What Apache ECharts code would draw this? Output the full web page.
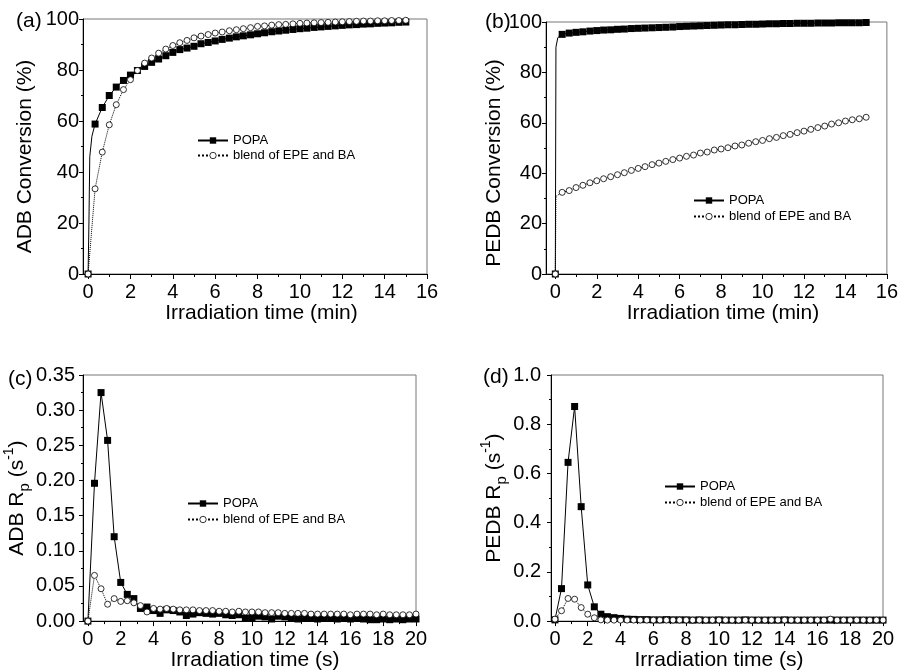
<!DOCTYPE html>
<html><head><meta charset="utf-8">
<script src="https://cdn.jsdelivr.net/npm/echarts@6/dist/echarts.min.js"></script>
<style>html,body{margin:0;padding:0;background:#fff}#c{width:901px;height:672px}</style>
</head><body><div id="c"></div>
<script>
// ---------- data ----------
const tMin = [0,0.33,0.67,1,1.33,1.67,2,2.33,2.67,3,3.33,3.67,4,4.33,4.67,5,5.33,5.67,6,6.33,6.67,7,7.33,7.67,8,8.33,8.67,9,9.33,9.67,10,10.33,10.67,11,11.33,11.67,12,12.33,12.67,13,13.33,13.67,14,14.33,14.67,15];
const popaA = [0,58.8,65.3,70,73.3,75.9,78,79.8,81.4,83,84.3,85.6,86.9,88,88.6,89.3,90.3,90.8,91.4,92,92.5,93,93.4,93.8,94.2,94.6,95,95.3,95.6,95.9,96.2,96.4,96.7,96.9,97.1,97.3,97.5,97.7,97.8,98,98.1,98.3,98.4,98.5,98.7,98.8];
const blendA = [0,33.4,47.8,58.5,66.4,72.3,76.2,79.8,82.7,84.7,86.6,88.2,89.6,90.7,91.6,92.6,93.3,93.9,94.5,94.9,95.4,95.8,96.2,96.6,97.1,97.3,97.6,97.8,97.9,98.1,98.3,98.4,98.5,98.6,98.7,98.8,98.9,99,99.1,99.2,99.2,99.3,99.3,99.4,99.4,99.5];
const popaB = [0,95.1,95.6,95.9,96.1,96.4,96.6,96.8,96.9,97.1,97.2,97.4,97.5,97.6,97.7,97.8,97.9,98.0,98.2,98.3,98.4,98.5,98.6,98.7,98.8,98.9,98.9,99.0,99.1,99.1,99.2,99.3,99.3,99.4,99.4,99.5,99.5,99.5,99.6,99.6,99.6,99.7,99.7,99.7,99.7,99.8];
const blendB = [0,32.4,33.1,34.3,35.2,36.2,37,37.8,38.6,39.4,40.2,41.1,41.9,42.6,43.4,44,44.7,45.4,46,46.7,47.2,48,48.4,49.2,49.6,50.1,50.8,51.2,51.9,52.5,53,53.7,54.2,54.9,55.4,56.1,56.7,57.4,58.1,58.7,59.5,60,60.7,61.2,61.6,62.2];
// line-only points of the steep initial rise (no symbols in the original)
const popaARise = [[0.04,20],[0.08,46],[0.18,54]];
const popaBRise = [[0.03,90],[0.12,93.8]];
const blendBRise = [[0.03,30.8]];

const tSec = [0,0.4,0.8,1.2,1.6,2,2.4,2.8,3.2,3.6,4,4.4,4.8,5.2,5.6,6,6.4,6.8,7.2,7.6,8,8.4,8.8,9.2,9.6,10,10.4,10.8,11.2,11.6,12,12.4,12.8,13.2,13.6,14,14.4,14.8,15.2,15.6,16,16.4,16.8,17.2,17.6,18,18.4,18.8,19.2,19.6,20];
const popaC = [0,0.196,0.325,0.257,0.120,0.055,0.038,0.032,0.018,0.020,0.015,0.011,0.016,0.015,0.013,0.008,0.010,0.012,0.011,0.010,0.011,0.009,0.008,0.009,0.004,0.005,0.007,0.006,0.003,0.007,0.006,0.004,0.003,0.005,0.004,0.003,0.004,0.005,0.003,0.004,0.003,0.004,0.003,0.002,0.002,0.003,0.002,0.003,0.002,0.003,0.003];
const blendC = [0,0.065,0.046,0.024,0.032,0.028,0.029,0.026,0.022,0.013,0.018,0.017,0.018,0.017,0.016,0.016,0.016,0.015,0.015,0.015,0.014,0.014,0.013,0.014,0.013,0.013,0.013,0.012,0.012,0.012,0.011,0.011,0.011,0.011,0.010,0.010,0.010,0.010,0.010,0.010,0.009,0.010,0.010,0.010,0.009,0.010,0.009,0.009,0.009,0.009,0.010];
const popaD = [0.005,0.132,0.645,0.872,0.465,0.147,0.058,0.028,0.018,0.014,0.011,0.008,0.007,0.006,0.006,0.005,0.005,0.006,0.005,0.005,0.005,0.004,0.005,0.004,0.004,0.005,0.004,0.004,0.004,0.005,0.004,0.004,0.004,0.004,0.004,0.005,0.004,0.004,0.004,0.004,0.004,0.004,0.004,0.004,0.004,0.004,0.004,0.004,0.004,0.004,0.004];
const blendD = [0.008,0.042,0.092,0.089,0.055,0.028,0.0135,0.005,0.004,0.004,0.004,0.004,0.004,0.004,0.004,0.004,0.004,0.004,0.004,0.004,0.004,0.004,0.004,0.004,0.004,0.004,0.004,0.004,0.004,0.004,0.004,0.004,0.004,0.004,0.004,0.004,0.004,0.004,0.004,0.004,0.004,0.004,0.008,0.004,0.004,0.004,0.004,0.004,0.004,0.004,0.004];

const ticksMin = [0,2,4,6,8,10,12,14,16];
const minorMin = [1,3,5,7,9,11,13,15];
const ticksSec = [0,2,4,6,8,10,12,14,16,18,20];
const minorSec = [1,3,5,7,9,11,13,15,17,19];
const seriesNames = ['POPA','blend of EPE and BA'];
const panelLabels = ['(a)','(b)','(c)','(d)'];
const xTitles = ['Irradiation time (min)','Irradiation time (min)','Irradiation time (s)','Irradiation time (s)'];
const yTitles = ['ADB Conversion (%)','PEDB Conversion (%)','ADB R{sub|p} (s{sup|-1})','PEDB R{sub|p} (s{sup|-1})'];

// ---------- chart ----------
const FONT = '"Liberation Sans", Arial, sans-serif';
function pts(xs, ys){ return xs.map((x,i)=>[x, ys[i]]); }
function withRise(xs, ys, rise){
  const all = pts(xs, ys);
  return [all[0]].concat(rise.map(p=>({value:p, symbol:'none'})), all.slice(1));
}

const grids = [
  {left:83, top:19, width:344, height:255},
  {left:546, top:22, width:345, height:252},
  {left:83, top:375, width:333, height:248},
  {left:551, top:375, width:332, height:247}
];
const xCfg = [
  {min:-0.24, max:16, major:ticksMin, minor:minorMin, padL:13},
  {min:-0.45, max:16, major:ticksMin, minor:minorMin, padL:13},
  {min:-0.3, max:20, major:ticksSec, minor:minorSec, padL:11},
  {min:-0.24, max:20, major:ticksSec, minor:minorSec, padL:4}
];
const yCfg = [
  {min:0, max:100, interval:20, dec:0, margin:4, gap:47, padR:20, lh:null},
  {min:0, max:100, interval:20, dec:0, margin:4, gap:39, padR:30, lh:null},
  {min:0, max:0.35, interval:0.05, dec:2, margin:8, gap:43, padR:0, lh:30},
  {min:0, max:1.0, interval:0.2, dec:1, margin:10, gap:39, padR:0, lh:30}
];

const xAxes = [], yAxes = [];
xCfg.forEach((c,i)=>{
  xAxes.push({
    type:'value', gridIndex:i, min:c.min, max:c.max, position:'bottom',
    name:xTitles[i], nameLocation:'middle', nameGap:28,
    nameTextStyle:{fontSize:21, color:'#000', fontFamily:FONT, padding:[0,0,0,c.padL]},
    axisLine:{show:true, onZero:false, lineStyle:{color:'#000', width:1}},
    axisTick:{show:true, inside:false, length:5, customValues:c.major, lineStyle:{color:'#000'}},
    axisLabel:{customValues:c.major, fontSize:20, color:'#000', fontFamily:FONT, margin:8},
    splitLine:{show:false}
  });
});
xCfg.forEach((c,i)=>{
  xAxes.push({
    type:'value', gridIndex:i, min:c.min, max:c.max, position:'bottom',
    axisLine:{show:false, onZero:false},
    axisTick:{show:true, length:3, customValues:c.minor, lineStyle:{color:'#000'}},
    axisLabel:{show:false}, splitLine:{show:false}
  });
});
yCfg.forEach((c,i)=>{
  const ns = {fontSize:21, color:'#000', fontFamily:FONT, padding:[0,c.padR,0,0]};
  if (c.lh) {
    ns.lineHeight = c.lh;
    ns.rich = {
      sub:{fontSize:15, fontFamily:FONT, color:'#000', verticalAlign:'bottom', lineHeight:15},
      sup:{fontSize:14, fontFamily:FONT, color:'#000', verticalAlign:'top', lineHeight:14}
    };
  }
  yAxes.push({
    type:'value', gridIndex:i, min:c.min, max:c.max, interval:c.interval,
    name:yTitles[i], nameLocation:'middle', nameGap:c.gap, nameTextStyle:ns,
    axisLine:{show:true, onZero:false, lineStyle:{color:'#000', width:1}},
    axisTick:{show:true, length:4, lineStyle:{color:'#000'}},
    minorTick:{show:true, splitNumber:2, length:2, lineStyle:{color:'#000'}},
    axisLabel:{fontSize:20, color:'#000', fontFamily:FONT, margin:c.margin,
      formatter:(v)=>Number(v).toFixed(c.dec)},
    splitLine:{show:false}
  });
});

function popaSeries(i, data){
  return {name:seriesNames[0], type:'line', xAxisIndex:i, yAxisIndex:i, data:data,
    symbol:'rect', symbolSize:7, showSymbol:true, z:3,
    itemStyle:{color:'#000'}, lineStyle:{color:'#000', width:1, type:'solid'}};
}
function blendSeries(i, data){
  return {name:seriesNames[1], type:'line', xAxisIndex:i, yAxisIndex:i, data:data,
    symbol:'circle', symbolSize:6, showSymbol:true, z:4,
    itemStyle:{color:'#fff', borderColor:'#000', borderWidth:0.8}, lineStyle:{color:'#000', width:1, type:'dotted'}};
}

const series = [
  popaSeries(0, withRise(tMin, popaA, popaARise)),
  blendSeries(0, pts(tMin, blendA)),
  popaSeries(1, withRise(tMin, popaB, popaBRise)),
  blendSeries(1, withRise(tMin, blendB, blendBRise)),
  popaSeries(2, pts(tSec, popaC)),
  blendSeries(2, pts(tSec, blendC)),
  popaSeries(3, pts(tSec, popaD)),
  blendSeries(3, pts(tSec, blendD))
];

const legendPos = [
  {left:197, top:134, gap:2},
  {left:693, top:194, gap:3},
  {left:187, top:497, gap:3},
  {left:664, top:480, gap:3}
];
const legends = legendPos.map(p=>({
  left:p.left, top:p.top, orient:'vertical', itemWidth:30, itemHeight:8, itemGap:p.gap,
  padding:0, selectedMode:false, data:seriesNames,
  itemStyle:{borderWidth:0.8},
  textStyle:{fontSize:13, color:'#000', fontFamily:FONT, padding:[0,0,0,0]}
}));

const labelPos = [
  {left:16, top:11},
  {left:485, top:12},
  {left:8, top:369},
  {left:483, top:367}
];
const titles = labelPos.map((p,i)=>({
  text:panelLabels[i], left:p.left, top:p.top, padding:0,
  textStyle:{fontSize:21, fontWeight:'normal', color:'#000', fontFamily:FONT}
}));

const chart = echarts.init(document.getElementById('c'), null, {renderer:'canvas'});
chart.setOption({
  animation:false,
  backgroundColor:'#fff',
  title:titles,
  legend:legends,
  grid:grids.map(g=>Object.assign({show:true, borderColor:'#777', borderWidth:1, containLabel:false}, g)),
  xAxis:xAxes,
  yAxis:yAxes,
  series:series
});
</script></body></html>
